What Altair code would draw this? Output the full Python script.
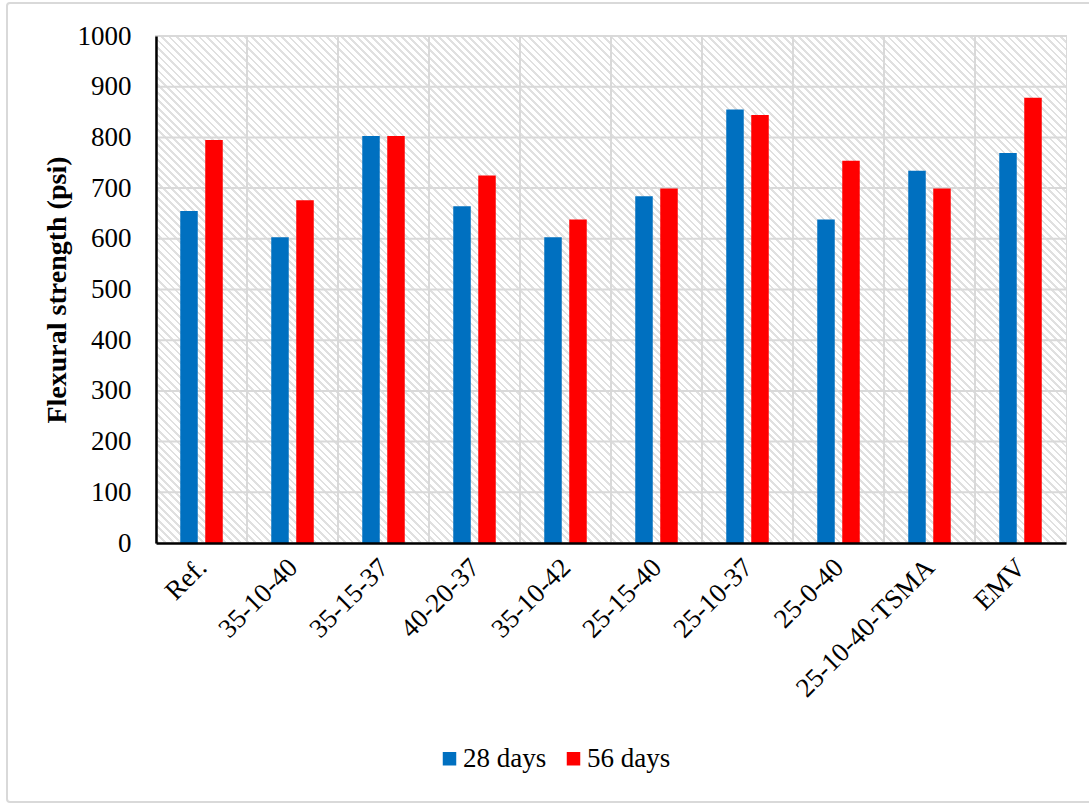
import altair as alt
import pandas as pd

# Mix designs on the x axis
mixes = ["Ref.", "35-10-40", "35-15-37", "40-20-37", "35-10-42",
         "25-15-40", "25-10-37", "25-0-40", "25-10-40-TSMA", "EMV"]
# Flexural strength (psi) at each curing age
days28 = [655, 603, 803, 664, 603, 684, 855, 638, 734, 769]
days56 = [795, 676, 803, 725, 638, 699, 844, 754, 699, 878]
ages = ["28 days", "56 days"]
y_ticks = [0, 100, 200, 300, 400, 500, 600, 700, 800, 900, 1000]

BLUE = "#0070C0"
RED = "#FF0000"
GRID = "#d9d9d9"
FONT = "Liberation Serif"
W, H = 910, 507

rows = []
for m, a, b in zip(mixes, days28, days56):
    rows.append({"mix": m, "age": ages[0], "value": a})
    rows.append({"mix": m, "age": ages[1], "value": b})
df = pd.DataFrame(rows)

# Diagonal hatch texture for the plot background, built as a striped gradient
n_stripes = 243
stops = []
for i in range(n_stripes):
    a = round(i / n_stripes, 6)
    b = round((i + 0.36) / n_stripes, 6)
    c = round((i + 1) / n_stripes, 6)
    stops += [
        alt.GradientStop(offset=a, color="#e0e0e0"),
        alt.GradientStop(offset=b, color="#e0e0e0"),
        alt.GradientStop(offset=b, color="#ffffff"),
        alt.GradientStop(offset=c, color="#ffffff"),
    ]
hatch_fill = alt.LinearGradient(gradient="linear", stops=stops, x1=0, y1=1, x2=1, y2=0)

x_axis = alt.Axis(
    title=None, labelAngle=-45, labelAlign="right", labelBaseline="middle",
    labelFont=FONT, labelFontSize=27, labelColor="black",
    labelPadding=20, labelOffset=1, labelLimit=400, labelOverlap=False,
    ticks=False, grid=False, domainColor="black", domainWidth=2.5, zindex=1,
)
y_axis = alt.Axis(
    title="Flexural strength (psi)", values=y_ticks, format="d",
    titleFont=FONT, titleFontSize=28, titleFontWeight="bold",
    titleColor="black", titlePadding=6,
    labelFont=FONT, labelFontSize=27, labelColor="black", labelPadding=25,
    ticks=False, grid=False, domainColor="black", domainWidth=2.5, zindex=1,
)
x_scale = alt.Scale(paddingInner=0, paddingOuter=0)
y_scale = alt.Scale(domain=[0, 1000], nice=False)

one_row = pd.DataFrame({"k": [0]})

hatch = alt.Chart(one_row).mark_rect(clip=True, fill=hatch_fill).encode(
    x=alt.value(0), x2=alt.value(W), y=alt.value(0), y2=alt.value(W)
)

hgrid = alt.Chart(pd.DataFrame({"tick": y_ticks})).mark_rule(
    color=GRID, strokeWidth=2
).encode(y=alt.Y("tick:Q", scale=y_scale, axis=y_axis))

vgrid = alt.Chart(pd.DataFrame({"mix": mixes})).mark_rule(
    color=GRID, strokeWidth=2
).encode(x=alt.X("mix:N", sort=mixes, scale=x_scale, axis=x_axis, bandPosition=0))

bars = alt.Chart(df).mark_bar().encode(
    x=alt.X("mix:N", sort=mixes, scale=x_scale, axis=x_axis),
    xOffset=alt.XOffset("age:N", sort=ages,
                        scale=alt.Scale(paddingInner=0.3, paddingOuter=0.97)),
    y=alt.Y("value:Q", scale=y_scale, axis=y_axis),
    color=alt.Color(
        "age:N",
        scale=alt.Scale(domain=ages, range=[BLUE, RED]),
        legend=alt.Legend(
            title=None, orient="none", legendX=280, legendY=709,
            direction="horizontal", symbolType="square", symbolSize=182,
            symbolStrokeWidth=0, labelFont=FONT, labelFontSize=27,
            labelColor="black", labelOffset=0, columnPadding=13, padding=0,
        ),
    ),
)

frame = alt.Chart(one_row).mark_rect(
    fillOpacity=0, stroke="#d9d9d9", strokeWidth=2, cornerRadius=3
).encode(
    x=alt.value(-149), x2=alt.value(950), y=alt.value(-33), y2=alt.value(766)
)

chart = alt.layer(hatch, hgrid, vgrid, bars, frame).properties(
    width=W, height=H,
    autosize=alt.AutoSizeParams(type="none"),
    padding={"left": 156, "top": 36, "right": 23, "bottom": 260},
    background="white",
).configure_view(stroke=GRID, strokeWidth=2)

chart.save("out.html", embed_options={"renderer": "svg", "actions": False})
